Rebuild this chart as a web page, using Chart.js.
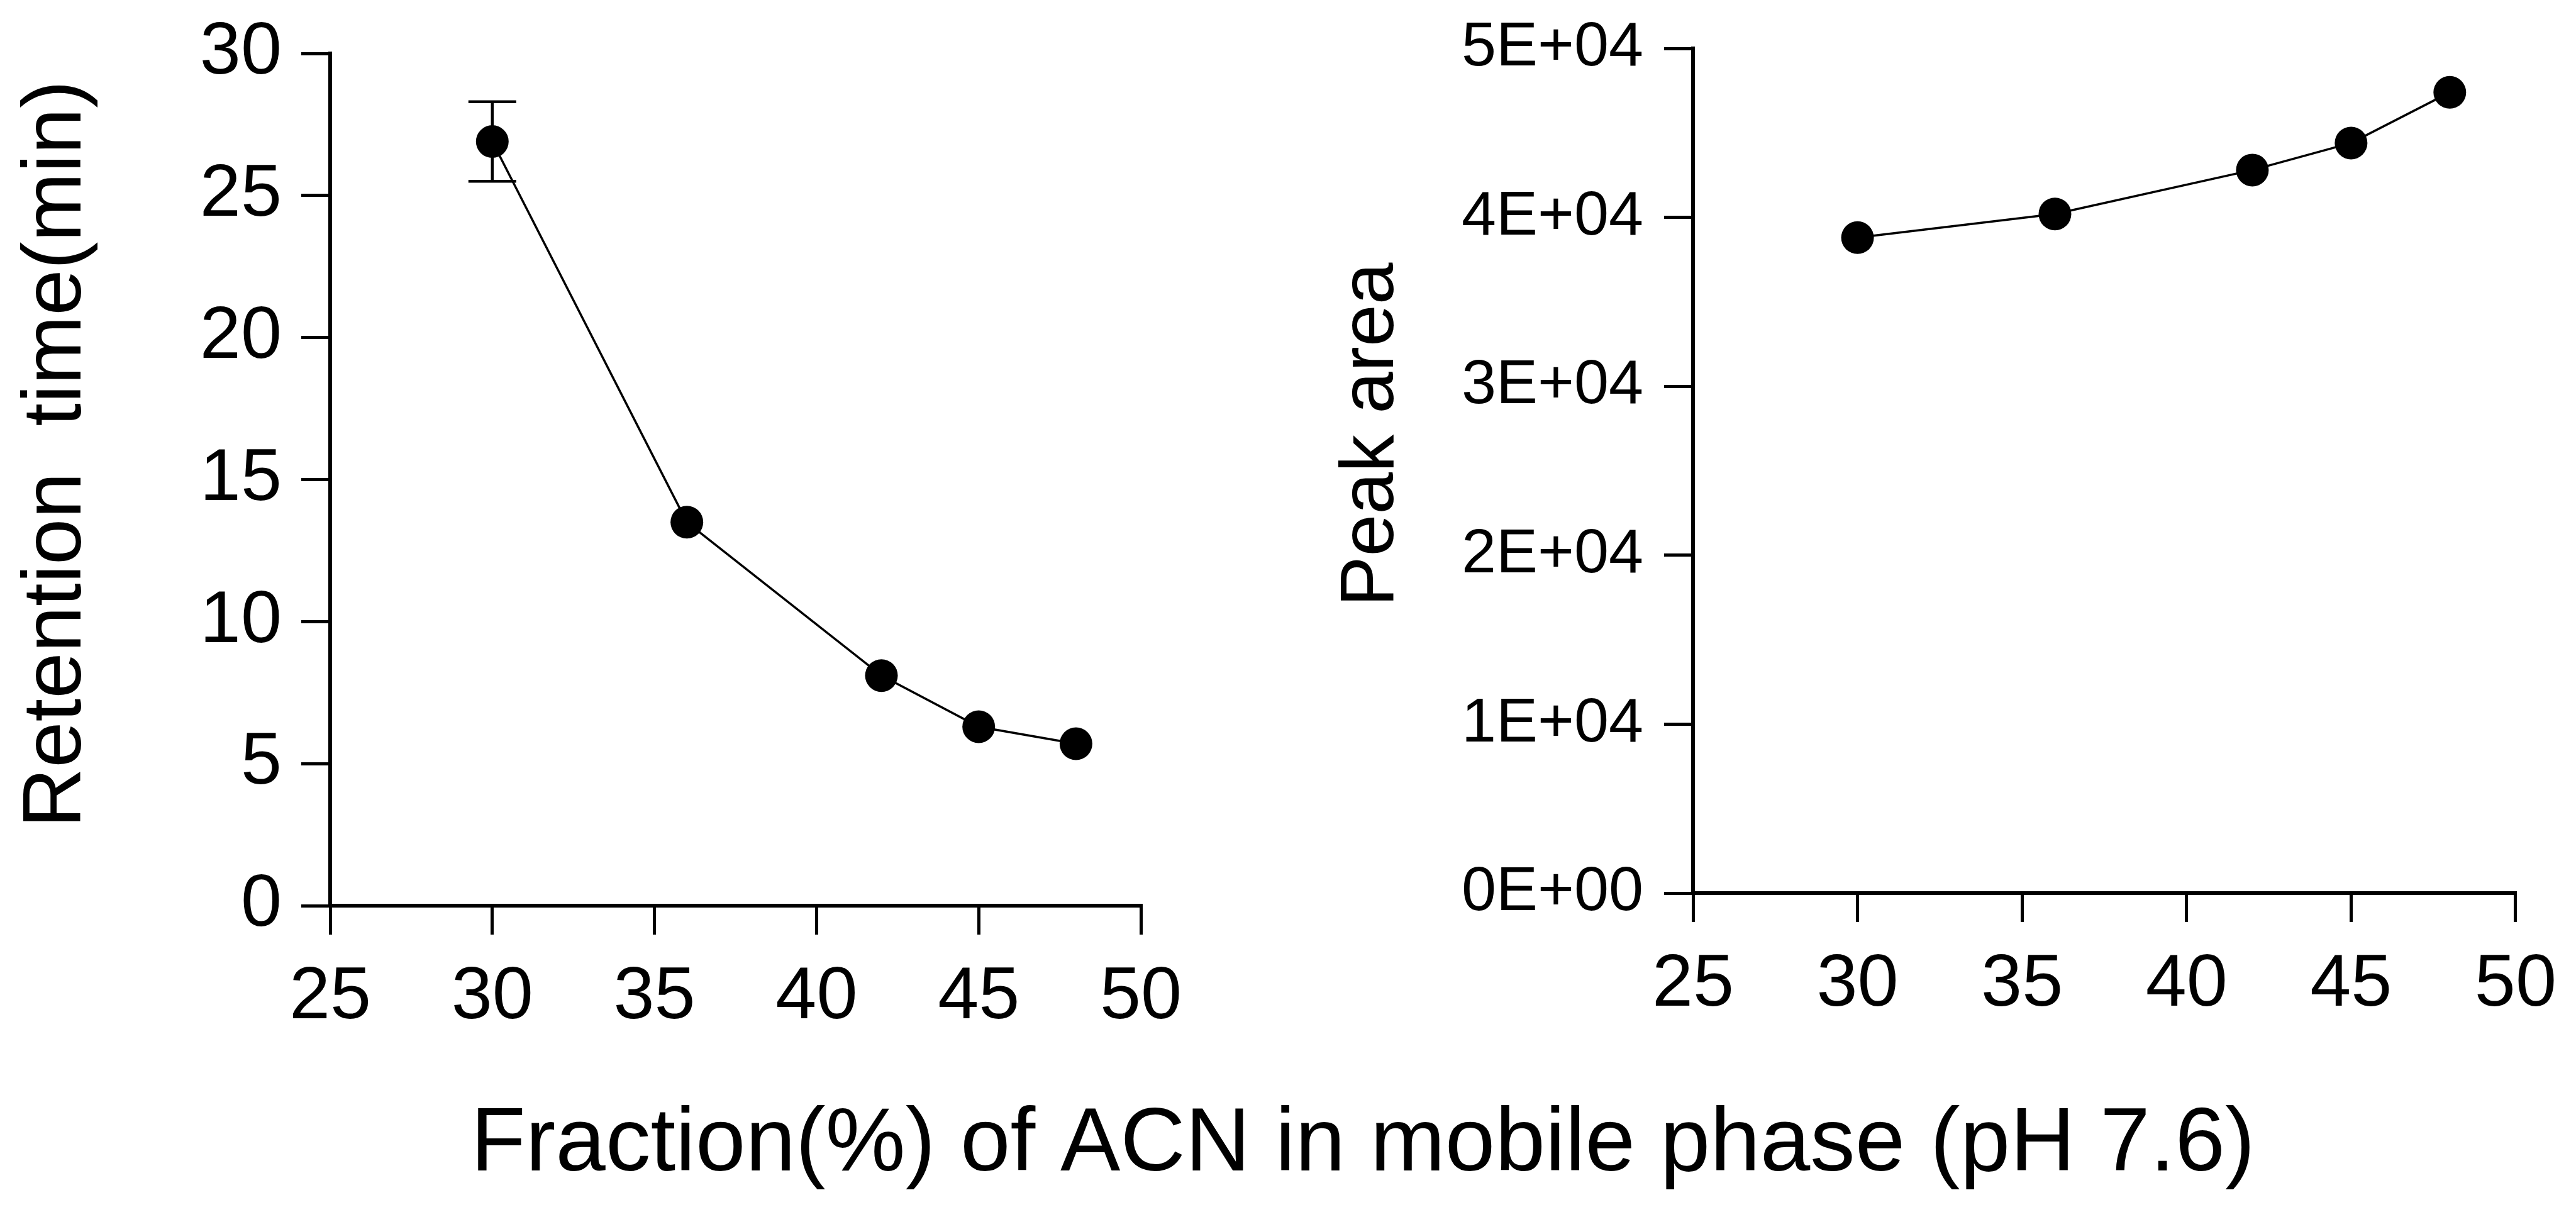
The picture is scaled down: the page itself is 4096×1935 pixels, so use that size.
<!DOCTYPE html>
<html>
<head>
<meta charset="utf-8">
<script src="https://cdn.jsdelivr.net/npm/chart.js@4.4.0/dist/chart.umd.min.js"></script>
<style>
  html, body { margin: 0; padding: 0; background: #fff; }
  #wrap { position: relative; width: 4096px; height: 1935px; overflow: hidden; background: #fff; }
  canvas { position: absolute; left: 0; top: 0; }
</style>
</head>
<body>
<div id="wrap">
  <canvas id="retention" width="4096" height="1935"></canvas>
  <canvas id="peakArea" width="4096" height="1935"></canvas>
</div>
<script>
// values
const acnFraction = [30, 36, 42, 45, 48];
const retentionTime = [26.9, 13.5, 8.1, 6.3, 5.7];
const retentionErr = [1.4, 0, 0, 0, 0];
const peakArea = [38800, 40200, 42800, 44400, 47400];

const xTicks = [25, 30, 35, 40, 45, 50];
const retentionTicks = [0, 5, 10, 15, 20, 25, 30];
const peakTicks = [0, 10000, 20000, 30000, 40000, 50000];
const peakTickLabels = ['0E+00', '1E+04', '2E+04', '3E+04', '4E+04', '5E+04'];

const FONT = "'Liberation Sans', Arial, sans-serif";

// error bars drawn under the markers
const errorBars = {
  id: 'errorBars',
  beforeDatasetsDraw(chart, args, opts) {
    if (!opts.err) return;
    const { ctx, scales: { x, y } } = chart;
    const pts = chart.data.datasets[0].data;
    ctx.save();
    ctx.strokeStyle = '#000';
    ctx.lineWidth = opts.width;
    opts.err.forEach((e, i) => {
      if (!e) return;
      const px = x.getPixelForValue(pts[i].x);
      const top = y.getPixelForValue(pts[i].y + e);
      const bot = y.getPixelForValue(pts[i].y - e);
      ctx.beginPath();
      ctx.moveTo(px, top); ctx.lineTo(px, bot);
      ctx.moveTo(px - opts.cap, top); ctx.lineTo(px + opts.cap, top);
      ctx.moveTo(px - opts.cap, bot); ctx.lineTo(px + opts.cap, bot);
      ctx.stroke();
    });
    ctx.restore();
  }
};

// free-placed titles (axis titles and the shared x title)
const titles = {
  id: 'titles',
  afterDraw(chart, args, opts) {
    const ctx = chart.ctx;
    (opts.items || []).forEach(t => {
      ctx.save();
      ctx.font = t.size + 'px ' + FONT;
      ctx.fillStyle = '#000';
      ctx.translate(t.x, t.y);
      ctx.rotate(t.angle || 0);
      ctx.textAlign = 'center';
      ctx.textBaseline = 'alphabetic';
      ctx.fillText(t.text, 0, 0);
      ctx.restore();
    });
  }
};

function axis(min, max, ticks, labels, font, pad, fixed) {
  return {
    type: 'linear', min, max,
    afterBuildTicks: s => { s.ticks = ticks.map(v => ({ value: v })); },
    afterFit: s => { if (fixed.w) s.width = fixed.w; if (fixed.h) s.height = fixed.h; },
    grid: { drawOnChartArea: false, drawTicks: true, tickLength: 46, color: '#000', lineWidth: 5 },
    border: { display: true, color: '#000', width: 6 },
    ticks: {
      color: '#000', padding: pad, font: Object.assign({ family: FONT }, font),
      callback: (v, i) => labels[i]
    }
  };
}

function lineData(ys) {
  return acnFraction.map((x, i) => ({ x, y: ys[i] }));
}

function makeChart(id, ys, yAxis, padding, plugOpts) {
  return new Chart(document.getElementById(id), {
    type: 'line',
    data: {
      datasets: [{
        data: lineData(ys),
        borderColor: '#000',
        borderWidth: 3.5,
        backgroundColor: '#000',
        pointBackgroundColor: '#000',
        pointBorderColor: '#000',
        pointRadius: 26,
        pointBorderWidth: 0,
        tension: 0,
        clip: false
      }]
    },
    options: {
      responsive: false,
      animation: false,
      devicePixelRatio: 1,
      layout: { padding },
      plugins: Object.assign({ legend: { display: false }, tooltip: { enabled: false } }, plugOpts),
      scales: {
        x: axis(25, 50, xTicks, xTicks.map(String), { size: 117 }, 31, { h: 250 }),
        y: yAxis
      }
    },
    plugins: [errorBars, titles]
  });
}

// left panel: retention time
makeChart('retention', retentionTime,
  axis(0, 30, retentionTicks, retentionTicks.map(String), { size: 117, lineHeight: 0.5 }, 31, { w: 450 }),
  { left: 75, right: 2282, top: 85, bottom: 245 },
  {
    errorBars: { err: retentionErr, width: 4.5, cap: 38 },
    titles: {
      items: [
        { text: 'Retention  time(min)', x: 128, y: 722, size: 132, angle: -Math.PI / 2 },
        { text: 'Fraction(%) of ACN in mobile phase (pH 7.6)', x: 2167, y: 1861, size: 143 }
      ]
    }
  });

// right panel: peak area
makeChart('peakArea', peakArea,
  axis(0, 50000, peakTicks, peakTickLabels, { size: 99, lineHeight: 0.5 }, 33, { w: 450 }),
  { left: 2242, right: 96, top: 77, bottom: 265 },
  {
    errorBars: {},
    titles: {
      items: [
        { text: 'Peak area', x: 2215, y: 691, size: 120, angle: -Math.PI / 2 }
      ]
    }
  });
</script>
</body>
</html>
